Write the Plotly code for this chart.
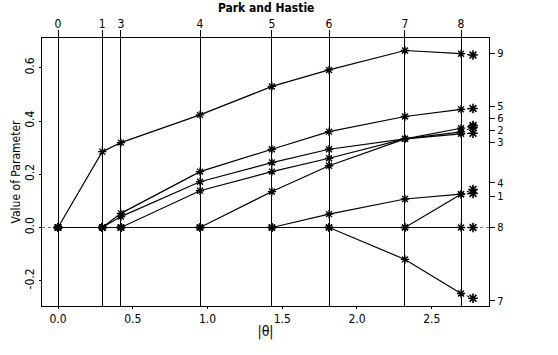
import plotly.graph_objects as go

# ---- data ----
steps_x = [0.0, 0.296, 0.421, 0.950, 1.431, 1.813, 2.321, 2.696]
step_labels = ['0', '1', '3', '4', '5', '6', '7', '8']
final_x = 2.776

series_names = ['9', '5', '6', '2', '3', '4', '1', '8', '7']
path_9 = [0.0, 0.285, 0.319, 0.423, 0.530, 0.592, 0.665, 0.653]
path_5 = [0.0, 0.0, 0.053, 0.210, 0.294, 0.360, 0.417, 0.444]
path_6 = [0.0, 0.0, 0.041, 0.172, 0.244, 0.294, 0.333, 0.373]
path_2 = [0.0, 0.0, 0.0, 0.138, 0.210, 0.260, 0.333, 0.359]
path_3 = [0.0, 0.0, 0.0, 0.0, 0.135, 0.232, 0.333, 0.352]
path_4 = [0.0, 0.0, 0.0, 0.0, 0.0, 0.050, 0.107, 0.125]
path_1 = [0.0, 0.0, 0.0, 0.0, 0.0, 0.0, 0.0, 0.125]
path_8 = [0.0, 0.0, 0.0, 0.0, 0.0, 0.0, 0.0, 0.0]
path_7 = [0.0, 0.0, 0.0, 0.0, 0.0, 0.0, -0.120, -0.248]
final_values = [0.648, 0.447, 0.383, 0.376, 0.354, 0.143, 0.128, 0.0, -0.266]

right_tick_vals = [0.655, 0.456, 0.411, 0.365, 0.319, 0.168, 0.116, 0.0, -0.275]
right_tick_text = ['9', '5', '6', '2', '3', '4', '1', '8', '7']

x_ticks = [0.0, 0.5, 1.0, 1.5, 2.0, 2.5]
y_ticks = [-0.2, 0.0, 0.2, 0.4, 0.6]

paths = [path_9, path_5, path_6, path_2, path_3, path_4, path_1, path_8, path_7]

FONT = "DejaVu Sans Condensed, Liberation Sans Narrow, Arial Narrow, Liberation Sans, sans-serif"
X_RANGE = [-0.107, 2.883]
Y_RANGE = [-0.295, 0.712]

fig = go.Figure()

fig.add_shape(type='line', xref='paper', yref='y', x0=0, x1=1, y0=0, y1=0,
              line=dict(color='#777', width=1, dash='dot'), layer='below')

for name, path, fv in zip(series_names, paths, final_values):
    fig.add_trace(go.Scatter(
        x=steps_x, y=path, mode='lines+markers', name=name,
        line=dict(color='black', width=1.2),
        marker=dict(symbol='asterisk-open', size=7, color='black',
                    line=dict(color='black', width=1.3)),
        showlegend=False, xaxis='x', yaxis='y'))
    fig.add_trace(go.Scatter(
        x=[steps_x[-1], final_x], y=[path[-1], fv], mode='lines',
        line=dict(color='black', width=1, dash='dot'),
        showlegend=False, xaxis='x', yaxis='y'))
    fig.add_trace(go.Scatter(
        x=[final_x], y=[fv], mode='markers',
        marker=dict(symbol='asterisk-open', size=8, color='black',
                    line=dict(color='black', width=1.6)),
        showlegend=False, xaxis='x', yaxis='y'))

# invisible traces to activate secondary axes
fig.add_trace(go.Scatter(x=[steps_x[0]], y=[0], mode='markers', marker=dict(opacity=0),
                         xaxis='x2', yaxis='y', showlegend=False, hoverinfo='skip'))
fig.add_trace(go.Scatter(x=[final_x], y=[0], mode='markers', marker=dict(opacity=0),
                         xaxis='x', yaxis='y2', showlegend=False, hoverinfo='skip'))

fig.update_layout(
    width=558, height=355,
    margin=dict(l=42, r=69, t=38, b=49),
    paper_bgcolor='white', plot_bgcolor='white',
    font=dict(family=FONT, color='black', size=12),
    title=dict(text='<b>Park and Hastie</b>', x=0.477, xanchor='center',
               y=0.978, yanchor='middle', font=dict(size=12, family=FONT)),
    xaxis=dict(range=X_RANGE, tickvals=x_ticks, ticktext=[f'{v:.1f}' for v in x_ticks],
               showgrid=False, zeroline=False, showline=True, linecolor='black',
               linewidth=1, mirror=False, ticks='outside', ticklen=2, tickcolor='black',
               title=dict(text='|θ|', standoff=0, font=dict(size=14))),
    xaxis2=dict(range=X_RANGE, overlaying='x', side='top', tickvals=steps_x,
                ticktext=step_labels, showgrid=True, gridcolor='black', gridwidth=1,
                zeroline=False, showline=True, linecolor='black', linewidth=1,
                ticks='outside', ticklen=7, tickcolor='black', ticklabelstandoff=-3),
    yaxis=dict(range=Y_RANGE, tickvals=y_ticks, ticktext=[f'{v:.1f}' for v in y_ticks],
               tickangle=-90, showgrid=False, zeroline=False, showline=True,
               linecolor='black', linewidth=1, ticks='outside', ticklen=2,
               tickcolor='black', title=dict(text='Value of Parameter', standoff=0,
                                             font=dict(size=12))),
    yaxis2=dict(range=Y_RANGE, overlaying='y', side='right', tickvals=right_tick_vals,
                ticktext=right_tick_text, showgrid=False, zeroline=False, showline=True,
                linecolor='black', linewidth=1, ticks='outside', ticklen=5,
                tickcolor='black', tickfont=dict(size=11)),
)

fig.write_html("out.html")
